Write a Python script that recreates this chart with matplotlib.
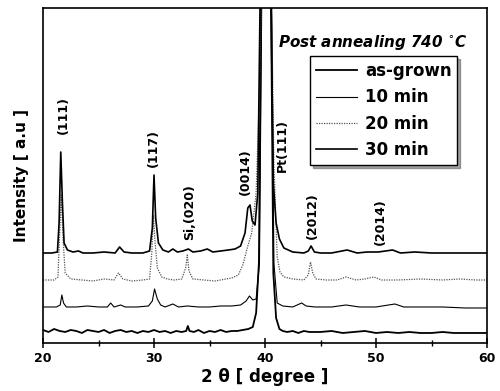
import numpy as np
import matplotlib
matplotlib.use("Agg")
import matplotlib.pyplot as plt
from matplotlib.ticker import MultipleLocator

# XRD traces (2theta, intensity in arbitrary units)
tt_30 = [20, 20.8, 21.3, 21.45, 21.6, 21.75, 21.9, 22.2, 22.7, 23.2, 23.6, 24.5, 25.5, 26.5, 26.9, 27.3,
         28.0, 29.0, 29.6, 29.85, 30.0, 30.15, 30.4, 30.8, 31.3, 31.7, 32.1, 32.6, 33.1, 33.5, 34.2, 34.8,
         35.3, 36.0, 36.7, 37.3, 37.8, 38.2, 38.45, 38.65, 38.85, 39.1, 39.35, 39.55, 40.05, 40.55, 40.75,
         41.0, 41.3, 41.7, 42.5, 43.5, 43.9, 44.15, 44.45, 45.0, 46.0, 47.4, 48.3, 49.2, 50.2, 51.5, 52.2,
         53.5, 55.0, 57.0, 59.0, 60]
I_30 = [90, 90, 91, 120, 191, 140, 100, 93, 91, 92, 90, 90, 91, 90, 96, 91,
        90, 90, 92, 115, 168, 125, 100, 93, 91, 94, 91, 92, 94, 91, 92, 94,
        91, 92, 93, 94, 97, 110, 135, 138, 122, 118, 150, 335, 1800, 335, 160,
        120, 104, 95, 91, 90, 92, 97, 91, 90, 90, 93, 90, 91, 91, 93, 90,
        91, 90, 90, 90, 90]

tt_20 = [20, 21.0, 21.35, 21.5, 21.65, 21.8, 22.0, 22.5, 23.5, 24.5, 25.5, 26.4, 26.8, 27.2, 28.0, 29.0,
         29.6, 29.8, 29.95, 30.1, 30.3, 30.7, 31.2, 31.8, 32.5, 32.85, 33.0, 33.15, 33.5, 34.5, 35.5, 36.5,
         37.0, 37.6, 38.0, 38.4, 38.8, 39.2, 39.5, 39.65, 40.1, 40.6, 40.8, 41.1, 41.35, 41.7, 42.5, 43.5,
         43.9, 44.1, 44.3, 44.6, 45.5, 46.5, 47.3, 48.2, 49.0, 49.8, 50.5, 52.0, 54.0, 56.0, 57.5, 59.0, 60]
I_20 = [63, 63, 66, 110, 148, 105, 70, 64, 63, 62, 64, 63, 70, 64, 62, 63,
        64, 90, 128, 100, 75, 66, 64, 63, 64, 75, 88, 72, 64, 63, 62, 64,
        65, 68, 78, 95, 110, 150, 250, 335, 1700, 335, 180, 86, 71, 66, 64, 63,
        68, 81, 70, 64, 63, 63, 66, 63, 64, 66, 63, 63, 64, 63, 64, 63, 63]

tt_10 = [20, 21.2, 21.55, 21.7, 21.85, 22.1, 23.0, 24.0, 25.0, 25.8, 26.1, 26.4, 27.0, 27.4, 28.5, 29.5,
         29.85, 30.05, 30.3, 30.6, 31.0, 31.7, 32.2, 33.0, 34.0, 35.0, 36.0, 37.0, 37.8, 38.3, 38.6, 38.9,
         39.2, 39.5, 39.7, 40.15, 40.6, 40.8, 41.1, 41.6, 42.5, 43.3, 43.7, 44.5, 46.0, 47.3, 48.5, 50.0,
         51.7, 52.5, 54.0, 56.0, 58.0, 60]
I_10 = [36, 36, 38, 48, 40, 36, 36, 37, 36, 36, 40, 36, 38, 36, 36, 37,
        42, 54, 44, 38, 36, 39, 36, 37, 36, 36, 37, 37, 38, 42, 47, 43,
        44, 80, 335, 1600, 335, 80, 40, 37, 36, 40, 37, 36, 36, 38, 36, 36,
        39, 36, 36, 36, 35, 35]

tt_ag = [20, 20.5, 21, 21.5, 22, 22.5, 23, 23.5, 24, 24.5, 25, 25.5, 26, 26.5, 27, 27.5, 28, 28.5, 29,
         29.5, 30, 30.5, 31, 31.5, 32, 32.5, 32.9, 33.05, 33.2, 33.6, 34, 34.5, 35, 35.5, 36, 36.5, 37,
         37.5, 38, 38.5, 38.9, 39.2, 39.45, 39.65, 40.1, 40.55, 40.75, 41.0, 41.3, 41.6, 42, 42.5, 43,
         43.5, 44, 45, 46, 47, 48, 49, 50, 51, 52, 53, 54, 55, 56, 57, 58, 59, 60]
I_ag = [13, 11, 14, 12, 11, 13, 12, 10, 13, 12, 11, 13, 10, 12, 13, 11, 12, 10, 12,
        11, 13, 11, 12, 10, 12, 11, 12, 17, 12, 11, 13, 10, 12, 11, 13, 11, 12,
        12, 13, 14, 16, 30, 80, 335, 1900, 335, 70, 25, 14, 12, 11, 12, 10,
        12, 11, 11, 12, 10, 11, 12, 10, 11, 10, 11, 10, 10, 11, 10, 10, 10, 10]

labels = ["as-grown", "10 min", "20 min", "30 min"]

peak_labels = ["(111)", "(117)", "Si,(020)", "(0014)", "Pt(111)", "(2012)", "(2014)"]
peak_x = [21.8, 29.9, 33.2, 38.2, 41.6, 44.3, 50.4]
peak_y = [228, 195, 131, 171, 198, 127, 121]

fig = plt.figure(figsize=(5, 3.91), dpi=100)
ax = fig.add_axes([0.086, 0.1228, 0.888, 0.8567])

ax.plot(tt_ag, I_ag, color="black", lw=1.3, label=labels[0])
ax.plot(tt_10, I_10, color="black", lw=0.8, label=labels[1])
ax.plot(tt_20, I_20, color="#555555", lw=0.9, ls=(0, (1, 1)), label=labels[2])
ax.plot(tt_30, I_30, color="black", lw=1.2, label=labels[3])

ax.set_xlim(20, 60)
ax.set_ylim(0, 335)
ax.set_yticks([])
ax.xaxis.set_major_locator(MultipleLocator(10))
ax.xaxis.set_minor_locator(MultipleLocator(5))
ax.tick_params(axis="x", which="major", direction="inout", length=7, width=1.1, labelsize=9, pad=3)
ax.tick_params(axis="x", which="minor", direction="inout", length=4, width=1.0)
for lab in ax.get_xticklabels():
    lab.set_fontweight("bold")
for sp in ax.spines.values():
    sp.set_linewidth(1.2)

ax.set_xlabel("2 θ [ degree ]", fontsize=12, fontweight="bold", labelpad=2)
ax.set_ylabel("Intensity [ a.u ]", fontsize=11, fontweight="bold", labelpad=10)

for t, x, y in zip(peak_labels, peak_x, peak_y):
    ax.text(x, y, t, rotation=90, ha="center", va="center", fontsize=9, fontweight="bold")

ax.text(41.2, 301, "Post annealing 740 $^{\\circ}$C", fontsize=10.9, fontweight="bold",
        fontstyle="italic", va="center", ha="left")

leg = ax.legend(loc="upper left", bbox_to_anchor=(0.601, 0.856), frameon=True, fancybox=False,
                shadow=True, edgecolor="black", fontsize=12, handlelength=2.5, handletextpad=0.45,
                labelspacing=0.5, borderpad=0.35, borderaxespad=0)
for t in leg.get_texts():
    t.set_fontweight("bold")
leg.get_frame().set_linewidth(1.0)

fig.savefig("out.png", dpi=100)
